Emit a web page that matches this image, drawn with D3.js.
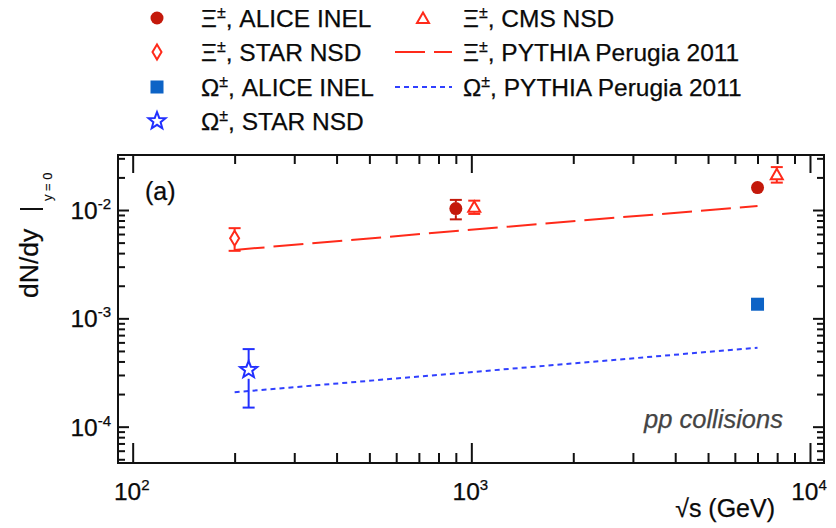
<!DOCTYPE html>
<html>
<head>
<meta charset="utf-8">
<script src="https://cdn.jsdelivr.net/npm/d3@7"></script>
<style>
  body { margin: 0; background: #fff; }
  text { font-family: "Liberation Sans", Arial, Helvetica, sans-serif; fill: #0a0a0a; stroke: #0a0a0a; stroke-width: 0.25px; }
</style>
</head>
<body>
<svg id="chart" width="836" height="528"></svg>
<script>
// Multi-strange baryon yields at midrapidity versus collision energy
const xiAliceSqrtS = [900, 7000];
const xiAliceYield = [0.0103, 0.0161];
const xiAliceErr   = [0.0021, 0];

const xiCmsSqrtS = [1020, 7980];
const xiCmsYield = [0.0107, 0.0214];
const xiCmsErr   = [0.0015, 0.0035];

const xiStarSqrtS = [200];
const xiStarYield = [0.0055];
const xiStarErr   = [0.0013];

const omAliceSqrtS = [7000];
const omAliceYield = [0.00135];
const omAliceErr   = [0];

const omStarSqrtS = [220];
const omStarYield = [0.000335];
const omStarErr   = [0.000185];

const pythiaSqrtS = [200, 900, 7000];
const xiPythia    = [0.00428, 0.0064, 0.0109];
const omPythia    = [0.000208, 0.00031, 0.000536];

const xTickValues = [100, 1000, 10000];
const xTickExp    = ["2", "3", "4"];
const yTickValues = [1e-2, 1e-3, 1e-4];
const yTickExp    = ["-2", "-3", "-4"];

const legendLeft = [
  { sym: "Ξ", text: ", ALICE INEL", marker: "circle" },
  { sym: "Ξ", text: ", STAR NSD",   marker: "diamond" },
  { sym: "Ω", text: ", ALICE INEL", marker: "square" },
  { sym: "Ω", text: ", STAR NSD",   marker: "star" }
];
const legendRight = [
  { sym: "Ξ", text: ", CMS NSD",              marker: "triangle" },
  { sym: "Ξ", text: ", PYTHIA Perugia 2011",  marker: "xiLine" },
  { sym: "Ω", text: ", PYTHIA Perugia 2011",  marker: "omLine" }
];

const COL = {
  xiAlice: "#c4190b",
  xiOpen:  "#ff2a1a",
  omAlice: "#0d63c6",
  omStar:  "#2230ff",
  omLine:  "#3040ff"
};

const svg = d3.select("#chart");
const L = 118, R = 824, T = 155, B = 463;

const x = d3.scaleLog().domain([90.5, 11000]).range([L, R]);
const y = d3.scaleLog().domain([4.62e-5, 0.0322]).range([B, T]);

// ---- tick positions (major decades + 2..9 minors inside the domain)
function minors(scale) {
  const [a, b] = scale.domain();
  const out = [];
  for (let e = Math.floor(Math.log10(a)); e <= Math.ceil(Math.log10(b)); e++) {
    for (let k = 2; k <= 9; k++) {
      const v = k * Math.pow(10, e);
      if (v >= a && v <= b) out.push(v);
    }
  }
  return out;
}
const xMinor = minors(x), yMinor = minors(y);

function tickAxis(axisFn, scale, values, size, tx, ty) {
  const g = svg.append("g")
    .attr("transform", `translate(${tx},${ty})`)
    .call(axisFn(scale).tickValues(values).tickSizeInner(-size).tickSizeOuter(0).tickFormat(""));
  g.select(".domain").remove();
  g.selectAll(".tick line").attr("stroke", "#111").attr("stroke-width", 2);
  return g;
}
// bottom / top
tickAxis(d3.axisBottom, x, xTickValues, 20, 0, B);
tickAxis(d3.axisBottom, x, xMinor, 10, 0, B);
tickAxis(d3.axisTop, x, xTickValues, 18, 0, T);
tickAxis(d3.axisTop, x, xMinor, 9, 0, T);
// left / right
tickAxis(d3.axisLeft, y, yTickValues, 11, L, 0);
tickAxis(d3.axisLeft, y, yMinor, 7, L, 0);
tickAxis(d3.axisRight, y, yTickValues, 11, R, 0);
tickAxis(d3.axisRight, y, yMinor, 7, R, 0);

// frame
svg.append("rect")
  .attr("x", L).attr("y", T).attr("width", R - L).attr("height", B - T)
  .attr("fill", "none").attr("stroke", "#111").attr("stroke-width", 2);

// ---- tick labels with exponents
xTickValues.forEach((v, i) => {
  const t = svg.append("text")
    .attr("x", x(v) - 1).attr("y", 500)
    .attr("text-anchor", "middle").attr("font-size", 24.5);
  t.append("tspan").text("10");
  t.append("tspan").attr("font-size", 15).attr("dy", -10).text(xTickExp[i]);
});
yTickValues.forEach((v, i) => {
  const t = svg.append("text")
    .attr("x", 111).attr("y", y(v) + 9)
    .attr("text-anchor", "end").attr("font-size", 24.5);
  t.append("tspan").text("10");
  t.append("tspan").attr("font-size", 15).attr("dy", -10).text(yTickExp[i]);
});

// ---- axis titles
svg.append("text")
  .attr("x", 775).attr("y", 517)
  .attr("text-anchor", "end").attr("font-size", 25)
  .text("√s (GeV)");

const yt = svg.append("g").attr("transform", "translate(38,298) rotate(-90)");
yt.append("text").attr("x", 0).attr("y", 0).attr("font-size", 26.5).text("dN/dy");
yt.append("line").attr("x1", 89).attr("x2", 89).attr("y1", -18).attr("y2", 5)
  .attr("stroke", "#111").attr("stroke-width", 2);
yt.append("text").attr("x", 97).attr("y", 14).attr("font-size", 13)
  .style("stroke-width", "0.15px").text("y = 0");

// ---- annotations
svg.append("text").attr("x", 145).attr("y", 200).attr("font-size", 25).text("(a)");
svg.append("text").attr("x", 644).attr("y", 428).attr("font-size", 25.5)
  .attr("font-style", "italic").style("fill", "#444").style("stroke", "#444").text("pp collisions");

// ---- marker shapes
const shapes = {
  circle:   (g, c) => g.append("circle").attr("r", 6.5).attr("fill", c),
  square:   (g, c) => g.append("rect").attr("x", -6.5).attr("y", -6.5).attr("width", 13).attr("height", 13).attr("fill", c),
  triangle: (g, c) => g.append("path").attr("d", "M0,-5.5L6,5L-6,5Z").attr("fill", "none").attr("stroke", c).attr("stroke-width", 2),
  diamond:  (g, c) => g.append("path").attr("d", "M0,-7.5L4.5,0L0,7.5L-4.5,0Z").attr("fill", "none").attr("stroke", c).attr("stroke-width", 2),
  star:     (g, c) => {
    const pts = d3.range(10).map(i => {
      const r = i % 2 === 0 ? 9 : 3.8;
      const a = -Math.PI / 2 + i * Math.PI / 5;
      return [r * Math.cos(a), r * Math.sin(a)];
    });
    return g.append("path").attr("d", "M" + pts.join("L") + "Z")
      .attr("fill", "none").attr("stroke", c).attr("stroke-width", 2);
  }
};
const markerHalf = { circle: 6.5, square: 6.5, triangle: 5.5, diamond: 7.5, star: 9 };

function drawSeries(xs, ys, errs, shape, color) {
  xs.forEach((sx, i) => {
    const cx = x(sx), cy = y(ys[i]), e = errs[i];
    if (e > 0) {
      const yt0 = y(ys[i] + e), yb0 = y(ys[i] - e), h = markerHalf[shape];
      const eg = svg.append("g").attr("stroke", color).attr("stroke-width", 2);
      if (cy - h > yt0) eg.append("line").attr("x1", cx).attr("x2", cx).attr("y1", yt0).attr("y2", cy - h);
      if (cy + h < yb0) eg.append("line").attr("x1", cx).attr("x2", cx).attr("y1", cy + h).attr("y2", yb0);
      [yt0, yb0].forEach(yy => eg.append("line").attr("x1", cx - 6).attr("x2", cx + 6).attr("y1", yy).attr("y2", yy));
    }
    const g = svg.append("g").attr("transform", `translate(${cx},${cy})`);
    shapes[shape](g, color);
  });
}

// ---- PYTHIA curves
const line = d3.line().x(d => x(d[0])).y(d => y(d[1]));
svg.append("path")
  .attr("d", line(pythiaSqrtS.map((s, i) => [s, xiPythia[i]])))
  .attr("fill", "none").attr("stroke", COL.xiOpen).attr("stroke-width", 2)
  .attr("stroke-dasharray", "30,9");
svg.append("path")
  .attr("d", line(pythiaSqrtS.map((s, i) => [s, omPythia[i]])))
  .attr("fill", "none").attr("stroke", COL.omLine).attr("stroke-width", 2)
  .attr("stroke-dasharray", "5,4");

// ---- data points
drawSeries(xiStarSqrtS, xiStarYield, xiStarErr, "diamond", COL.xiOpen);
drawSeries(xiCmsSqrtS, xiCmsYield, xiCmsErr, "triangle", COL.xiOpen);
drawSeries(xiAliceSqrtS, xiAliceYield, xiAliceErr, "circle", COL.xiAlice);
drawSeries(omStarSqrtS, omStarYield, omStarErr, "star", COL.omStar);
drawSeries(omAliceSqrtS, omAliceYield, omAliceErr, "square", COL.omAlice);

// ---- legend
const markerColor = { circle: COL.xiAlice, diamond: COL.xiOpen, square: COL.omAlice, star: COL.omStar, triangle: COL.xiOpen };
function legendText(tx, ty, item) {
  const t = svg.append("text").attr("x", tx).attr("y", ty).attr("font-size", 24.5);
  t.append("tspan").text(item.sym);
  t.append("tspan").attr("font-size", 16).attr("dy", -9).text("±");
  t.append("tspan").attr("dy", 9).text(item.text);
}
const rowBase = [27, 61, 96, 130];
legendLeft.forEach((item, i) => {
  const g = svg.append("g").attr("transform", `translate(157,${rowBase[i] - 9})`);
  shapes[item.marker](g, markerColor[item.marker]);
  legendText(201, rowBase[i], item);
});
legendRight.forEach((item, i) => {
  const cy = rowBase[i] - 9;
  if (item.marker === "xiLine" || item.marker === "omLine") {
    svg.append("line").attr("x1", 395).attr("x2", 452).attr("y1", cy).attr("y2", cy)
      .attr("stroke", item.marker === "xiLine" ? COL.xiOpen : COL.omLine).attr("stroke-width", 2)
      .attr("stroke-dasharray", item.marker === "xiLine" ? "30,9" : "5,4");
  } else {
    const g = svg.append("g").attr("transform", `translate(423,${cy})`);
    shapes[item.marker](g, markerColor[item.marker]);
  }
  legendText(463, rowBase[i], item);
});
</script>
</body>
</html>
